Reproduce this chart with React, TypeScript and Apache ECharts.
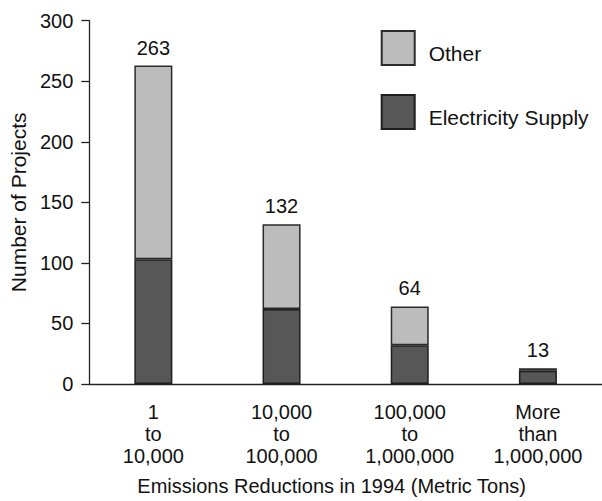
import React, { useEffect, useRef } from "react";
import * as echarts from "echarts";

const categories = ["1\nto\n10,000", "10,000\nto\n100,000", "100,000\nto\n1,000,000", "More\nthan\n1,000,000"];
const electricity = [103, 62, 32, 11];
const other = [160, 70, 32, 2];
const yTicks = [0, 50, 100, 150, 200, 250, 300];

const FONT = "'Liberation Sans', Arial, Helvetica, sans-serif";
const FS = 20;

export default function App() {
  const ref = useRef<HTMLDivElement>(null);
  useEffect(() => {
    if (!ref.current) return;
    const chart = echarts.init(ref.current, null, { renderer: "svg" });
    const totals = electricity.map((v, i) => v + other[i]);
    chart.setOption({
      animation: false,
      backgroundColor: "#ffffff",
      textStyle: { fontFamily: FONT, color: "#111" },
      grid: { left: 82, top: 20.7, width: 523, height: 364.8, containLabel: false },
      legend: {
        orient: "vertical",
        left: 380.7,
        top: 30,
        padding: 0,
        itemWidth: 33,
        itemHeight: 34,
        itemGap: 28,
        icon: "rect",
        data: ["Other", "Electricity Supply"],
        formatter: "{a|{name}}",
        textStyle: {
          fontFamily: FONT,
          fontSize: 21,
          color: "#111",
          rich: {
            a: { fontFamily: FONT, fontSize: 21, color: "#111", padding: [10, 0, 0, 9] },
          },
        },
      },
      xAxis: {
        type: "category",
        data: categories,
        name: "Emissions Reductions in 1994 (Metric Tons)",
        nameLocation: "middle",
        nameGap: 92,
        nameTextStyle: { fontFamily: FONT, fontSize: FS, color: "#111", padding: [0, 28, 0, 0] },
        axisLine: { lineStyle: { color: "#222", width: 1.3 } },
        axisTick: { alignWithLabel: true, length: 7, lineStyle: { color: "#222", width: 1.3 } },
        axisLabel: { fontFamily: FONT, fontSize: FS, color: "#111", lineHeight: 22, margin: 17 },
      },
      yAxis: {
        type: "value",
        min: yTicks[0],
        max: yTicks[yTicks.length - 1],
        interval: 50,
        name: "Number of Projects",
        nameLocation: "middle",
        nameGap: 56,
        nameTextStyle: { fontFamily: FONT, fontSize: 21, color: "#111" },
        splitLine: { show: false },
        axisLine: { show: true, lineStyle: { color: "#222", width: 1.3 } },
        axisTick: { show: true, length: 8, lineStyle: { color: "#222", width: 1.3 } },
        axisLabel: { fontFamily: FONT, fontSize: FS, color: "#111", margin: 16 },
      },
      series: [
        {
          name: "Electricity Supply",
          type: "bar",
          stack: "total",
          barWidth: 38,
          data: electricity,
          itemStyle: { color: "#575757", borderColor: "#1e1e1e", borderWidth: 1.5 },
        },
        {
          name: "Other",
          type: "bar",
          stack: "total",
          barWidth: 38,
          data: other,
          itemStyle: { color: "#bcbcbc", borderColor: "#2a2a2a", borderWidth: 1.5 },
          label: {
            show: true,
            position: "top",
            distance: 8,
            fontFamily: FONT,
            fontSize: FS,
            color: "#111",
            formatter: (p: any) => String(totals[p.dataIndex]),
          },
        },
      ],
    });
    return () => chart.dispose();
  }, []);
  return <div ref={ref} style={{ position: "fixed", left: 0, top: 0, width: 602, height: 501 }} />;
}
